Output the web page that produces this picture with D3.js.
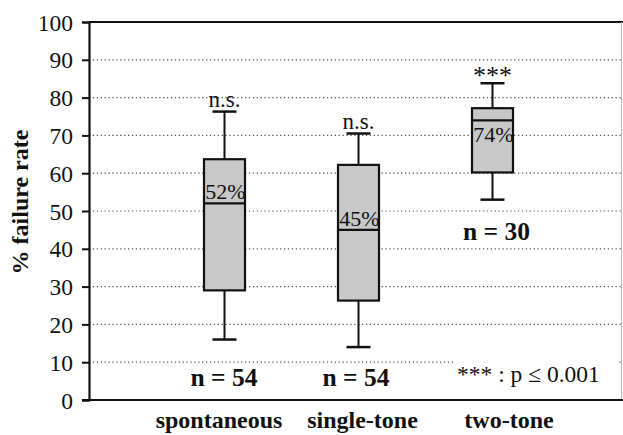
<!DOCTYPE html>
<html>
<head>
<meta charset="utf-8">
<script src="https://cdn.jsdelivr.net/npm/d3@7"></script>
<style>
  body { margin: 0; background: #fff; }
  svg text { font-family: "Liberation Serif", "Times New Roman", serif; fill: #111; }
</style>
</head>
<body>
<svg id="chart" width="623" height="435"></svg>
<script>
  // data
  var categories = ["spontaneous", "single-tone", "two-tone"];
  var whiskerLow = [16, 14, 53];
  var q1 = [29, 26.3, 60.2];
  var median = [52, 45, 74];
  var q3 = [63.7, 62.2, 77.2];
  var whiskerHigh = [76.3, 70.5, 83.8];
  var sig = ["n.s.", "n.s.", "***"];
  var nLabels = ["n = 54", "n = 54", "n = 30"];
  var yTicks = [0, 10, 20, 30, 40, 50, 60, 70, 80, 90, 100];

  var svg = d3.select("#chart");
  // note: "top" is reserved on window, so use plotTop
  var plotLeft = 89, plotRight = 622, plotTop = 22, plotBottom = 400;

  var y = d3.scaleLinear().domain([0, 100]).range([plotBottom, plotTop]);
  var x = d3.scalePoint().domain(categories).range([224.5, 492.5]);

  // dotted grid
  svg.append("g").selectAll("line")
    .data(yTicks.filter(function(d){ return d > 0 && d < 100; }))
    .enter().append("line")
    .attr("x1", plotLeft).attr("x2", plotRight)
    .attr("y1", function(d){ return y(d); })
    .attr("y2", function(d){ return y(d); })
    .attr("stroke", "#555")
    .attr("stroke-width", 1.2)
    .attr("stroke-dasharray", "1.3,2.6");

  // legend box hides grid behind it
  svg.append("rect")
    .attr("x", 453).attr("y", 356).attr("width", 166).attr("height", 40)
    .attr("fill", "#fff");

  // frame: top and right
  svg.append("line").attr("x1", plotLeft).attr("x2", 623).attr("y1", plotTop).attr("y2", plotTop)
    .attr("stroke", "#111").attr("stroke-width", 2);
  svg.append("line").attr("x1", 621.5).attr("x2", 621.5).attr("y1", plotTop).attr("y2", plotBottom)
    .attr("stroke", "#bbb").attr("stroke-width", 1);

  // axes
  var yAxis = d3.axisLeft(y).tickValues(yTicks).tickSize(7).tickPadding(9);
  var gy = svg.append("g").attr("transform", "translate(" + plotLeft + ",0)").call(yAxis);
  gy.select(".domain").attr("stroke", "#111").attr("stroke-width", 2.2);
  gy.selectAll(".tick line").attr("stroke", "#111").attr("stroke-width", 2);
  gy.selectAll(".tick text")
    .style("font-family", "'Liberation Serif', serif")
    .style("font-size", "23.5px")
    .attr("fill", "#111")
    .attr("dy", "0.34em");

  svg.append("line").attr("x1", plotLeft - 7).attr("x2", 623).attr("y1", plotBottom).attr("y2", plotBottom)
    .attr("stroke", "#111").attr("stroke-width", 2.2);

  var labelOffset = [-5.5, 4, 16.5];
  svg.append("g").selectAll("text")
    .data(categories).enter().append("text")
    .attr("x", function(d, i){ return x(d) + labelOffset[i]; })
    .attr("y", 428)
    .attr("text-anchor", "middle")
    .style("font-size", "24px")
    .style("font-weight", "bold")
    .text(function(d){ return d; });

  svg.append("text")
    .attr("transform", "translate(28,202) rotate(-90)")
    .attr("text-anchor", "middle")
    .style("font-size", "24px")
    .style("font-weight", "bold")
    .text("% failure rate");

  // boxes
  var boxW = 41, capW = 24;
  var boxes = svg.append("g").selectAll("g")
    .data(categories).enter().append("g");

  boxes.append("line")
    .attr("x1", function(d){ return x(d); }).attr("x2", function(d){ return x(d); })
    .attr("y1", function(d, i){ return y(whiskerLow[i]); })
    .attr("y2", function(d, i){ return y(whiskerHigh[i]); })
    .attr("stroke", "#111").attr("stroke-width", 2);
  [whiskerLow, whiskerHigh].forEach(function(arr){
    boxes.append("line")
      .attr("x1", function(d){ return x(d) - capW / 2; })
      .attr("x2", function(d){ return x(d) + capW / 2; })
      .attr("y1", function(d, i){ return y(arr[i]); })
      .attr("y2", function(d, i){ return y(arr[i]); })
      .attr("stroke", "#111").attr("stroke-width", 2.5);
  });
  boxes.append("rect")
    .attr("x", function(d){ return x(d) - boxW / 2; })
    .attr("y", function(d, i){ return y(q3[i]); })
    .attr("width", boxW)
    .attr("height", function(d, i){ return y(q1[i]) - y(q3[i]); })
    .attr("fill", "#c8c8c8")
    .attr("stroke", "#111").attr("stroke-width", 2.2);
  boxes.append("line")
    .attr("x1", function(d){ return x(d) - boxW / 2; })
    .attr("x2", function(d){ return x(d) + boxW / 2; })
    .attr("y1", function(d, i){ return y(median[i]); })
    .attr("y2", function(d, i){ return y(median[i]); })
    .attr("stroke", "#111").attr("stroke-width", 2.2);

  // median % labels (third one sits below the median line)
  boxes.append("text")
    .attr("x", function(d){ return x(d) + 1; })
    .attr("y", function(d, i){ return i === 2 ? y(median[i]) + 22 : y(median[i]) - 4; })
    .attr("text-anchor", "middle")
    .style("font-size", "22px")
    .text(function(d, i){ return median[i] + "%"; });

  // significance marks
  boxes.append("text")
    .attr("x", function(d){ return x(d); })
    .attr("y", function(d, i){ return i === 2 ? y(whiskerHigh[i]) + 1 : y(whiskerHigh[i]) - 5; })
    .attr("text-anchor", "middle")
    .style("font-size", function(d, i){ return i === 2 ? "26px" : "23px"; })
    .text(function(d, i){ return sig[i]; });

  // sample sizes
  var nPos = [[224, 386], [356, 386], [496.5, 240]];
  boxes.append("text")
    .attr("x", function(d, i){ return nPos[i][0]; })
    .attr("y", function(d, i){ return nPos[i][1]; })
    .attr("text-anchor", "middle")
    .style("font-size", "25.5px")
    .style("font-weight", "bold")
    .text(function(d, i){ return nLabels[i]; });

  svg.append("text")
    .attr("x", 457).attr("y", 382)
    .style("font-size", "23.5px")
    .text("*** : p \u2264 0.001");
</script>
</body>
</html>
